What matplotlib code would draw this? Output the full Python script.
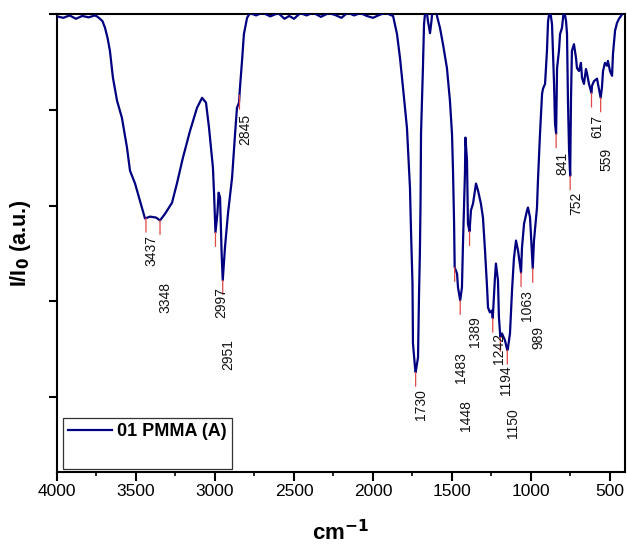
import matplotlib
matplotlib.use("Agg")
import matplotlib.pyplot as plt
from matplotlib.lines import Line2D
from matplotlib.ticker import MultipleLocator
import numpy as np

plt.rcParams['font.family'] = ['Liberation Sans', 'DejaVu Sans']

# ---- data ----
wavenumber = [4000, 3960, 3920, 3880, 3840, 3800, 3760, 3747, 3728, 3712, 3696, 3680,
              3665, 3646, 3620, 3589, 3557, 3538, 3506, 3475, 3443, 3411, 3373, 3348,
              3316, 3272, 3241, 3203, 3158, 3114, 3082, 3057, 3038, 3013, 3006, 2997,
              2985, 2977, 2968, 2958, 2951, 2937, 2918, 2892, 2873, 2861, 2848, 2842,
              2829, 2817, 2797, 2778, 2740, 2700, 2650, 2600, 2560, 2530, 2500, 2460,
              2420, 2380, 2330, 2280, 2240, 2200, 2160, 2120, 2080, 2040, 2000, 1960,
              1920, 1890, 1873, 1848, 1829, 1810, 1785, 1766, 1759, 1753, 1750, 1747,
              1734, 1730, 1715, 1709, 1703, 1699, 1696, 1684, 1677, 1665, 1652, 1639,
              1630, 1620, 1601, 1595, 1576, 1557, 1532, 1513, 1500, 1494, 1487, 1483,
              1468, 1462, 1448, 1437, 1430, 1418, 1415, 1405, 1399, 1389, 1380, 1367,
              1348, 1335, 1317, 1304, 1291, 1278, 1272, 1260, 1247, 1242, 1228, 1222,
              1209, 1203, 1194, 1184, 1165, 1150, 1146, 1133, 1120, 1108, 1095, 1082,
              1063, 1057, 1044, 1025, 1019, 1006, 989, 981, 962, 956, 943, 930,
              924, 911, 899, 892, 880, 867, 861, 854, 848, 841, 835, 823,
              816, 804, 797, 791, 778, 772, 766, 759, 752, 747, 741, 728,
              715, 709, 696, 684, 677, 665, 652, 646, 633, 617, 614, 601,
              582, 576, 559, 551, 544, 532, 519, 513, 500, 487, 481, 468,
              456, 443, 430, 418, 405]
intensity = [0.995, 0.992, 0.997, 0.990, 0.996, 0.993, 0.997, 0.995, 0.990, 0.985, 0.971, 0.950,
             0.923, 0.867, 0.819, 0.783, 0.721, 0.673, 0.646, 0.610, 0.573, 0.577, 0.575, 0.569,
             0.583, 0.606, 0.646, 0.700, 0.756, 0.804, 0.825, 0.815, 0.763, 0.679, 0.625, 0.544,
             0.583, 0.627, 0.617, 0.500, 0.444, 0.512, 0.583, 0.658, 0.750, 0.804, 0.815, 0.846,
             0.902, 0.958, 0.992, 1.002, 0.997, 1.003, 0.995, 1.002, 0.990, 0.996, 0.990, 1.002,
             0.997, 1.003, 0.994, 1.002, 0.998, 0.992, 1.003, 0.997, 1.002, 0.996, 0.992, 0.998,
             1.003, 0.998, 0.996, 0.958, 0.908, 0.846, 0.762, 0.637, 0.542, 0.471, 0.437, 0.312,
             0.262, 0.252, 0.283, 0.408, 0.506, 0.610, 0.750, 0.887, 0.979, 1.020, 0.985, 0.960,
             0.985, 1.020, 1.020, 0.996, 0.971, 0.937, 0.887, 0.819, 0.750, 0.679, 0.569, 0.471,
             0.458, 0.429, 0.402, 0.429, 0.527, 0.667, 0.742, 0.694, 0.562, 0.546, 0.590, 0.604,
             0.646, 0.631, 0.604, 0.575, 0.506, 0.429, 0.387, 0.377, 0.381, 0.365, 0.450, 0.479,
             0.444, 0.367, 0.325, 0.333, 0.319, 0.298, 0.302, 0.333, 0.423, 0.490, 0.527, 0.506,
             0.460, 0.512, 0.562, 0.590, 0.596, 0.575, 0.469, 0.527, 0.596, 0.652, 0.750, 0.833,
             0.844, 0.854, 0.923, 0.985, 1.010, 0.979, 0.923, 0.854, 0.771, 0.750, 0.887, 0.923,
             0.958, 0.971, 0.992, 1.010, 0.985, 0.958, 0.819, 0.715, 0.662, 0.819, 0.923, 0.937,
             0.908, 0.887, 0.881, 0.898, 0.867, 0.854, 0.885, 0.877, 0.854, 0.835, 0.850, 0.860,
             0.865, 0.854, 0.825, 0.846, 0.881, 0.898, 0.892, 0.902, 0.881, 0.871, 0.917, 0.965,
             0.981, 0.990, 0.996, 1.002, 1.005]

peak_labels = [3437, 3348, 2997, 2951, 2845, 1730, 1483, 1448, 1389, 1242,
               1194, 1150, 1063, 989, 841, 752, 617, 559]
# extra vertical drop (pixels) of each label below its red marker (layout)
label_gap_px = [2, 47, 40, 44, 4, 2, 70, 85, 70, 0, 13, 43, 2, 43, 3, 1, 7, 35]

series_name = "01 PMMA (A)"
x_ticks = [4000, 3500, 3000, 2500, 2000, 1500, 1000, 500]

# ---- figure ----
W, H = 627, 546
fig = plt.figure(figsize=(W / 100, H / 100), dpi=100)
ax = fig.add_axes([57 / W, 1 - 472 / H, (625 - 57) / W, (472 - 14) / H])

navy = '#000080'
ax.plot(wavenumber, intensity, color=navy, lw=1.6, solid_joinstyle='round', zorder=3)

ax.set_xlim(4000, 405)
ax.set_ylim(0.0438, 1.0)

# peak markers and labels
px2pt = 0.72
tick_len_px = 14
wn = np.array(wavenumber[::-1], float)
it = np.array(intensity[::-1], float)
for p, gap in zip(peak_labels, label_gap_px):
    yp = float(np.interp(p, wn, it))
    ax.annotate('', xy=(p, yp), xytext=(0, -tick_len_px * px2pt),
                textcoords='offset points',
                arrowprops=dict(arrowstyle='-', color='#e04848', lw=0.9,
                                shrinkA=0, shrinkB=0), zorder=4)
    ax.annotate(str(p), xy=(p, yp), xytext=(4.2, -(tick_len_px + gap + 1) * px2pt),
                textcoords='offset points', rotation=90, ha='center', va='top',
                fontsize=10, color='#111111', zorder=5)

# axes styling
for s in ax.spines.values():
    s.set_linewidth(1.5)
ax.set_xticks(x_ticks)
ax.set_xticklabels([str(v) for v in x_ticks], fontsize=12.5)
ax.xaxis.set_minor_locator(MultipleLocator(250))
ax.tick_params(axis='x', which='major', direction='out', length=6.5, width=1.5, pad=2)
ax.tick_params(axis='x', which='minor', direction='out', length=3, width=1.2)
ax.set_yticks([0.2, 0.4, 0.6, 0.8, 1.0])
ax.tick_params(axis='y', which='major', direction='out', length=6, width=1.5, labelleft=False)

ax.set_xlabel(r'cm$^{\mathbf{-1}}$', fontsize=16, fontweight='bold', labelpad=15)
ax.set_ylabel(r'I/I$_\mathbf{0}$ (a.u.)', fontsize=15.5, fontweight='bold', labelpad=11)

# legend
handles = [Line2D([], [], color=navy, lw=1.6), Line2D([], [], alpha=0)]
leg = ax.legend(handles, [series_name, ' '], loc='upper left',
                bbox_to_anchor=(6 / 568, (472 - 418) / 458), borderaxespad=0,
                frameon=True, fancybox=False, handlelength=2.4, handletextpad=0.3,
                borderpad=0.3, labelspacing=0.35,
                prop={'size': 13, 'weight': 'bold'})
leg.get_frame().set_edgecolor('black')
leg.get_frame().set_linewidth(0.9)

fig.savefig('out.png', dpi=100)
